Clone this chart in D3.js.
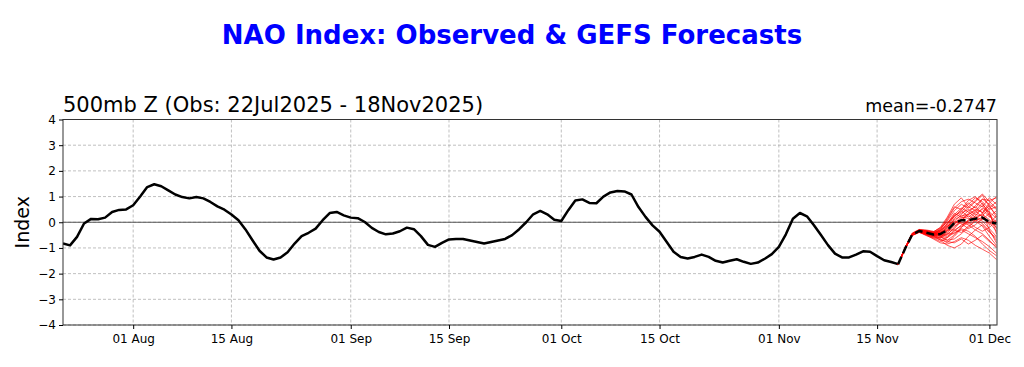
<!DOCTYPE html>
<html>
<head>
<meta charset="utf-8">
<script src="https://cdn.jsdelivr.net/npm/d3@7"></script>
<style>
  html, body { margin: 0; padding: 0; background: #fff; }
  svg { display: block; font-family: "DejaVu Sans", sans-serif; }
</style>
</head>
<body>
<svg id="chart" width="1024" height="367"></svg>
<script>
// ---- data ----
const obsStart = "2025-07-22";
const observed = [
  -0.83,-0.90,-0.57,-0.05,0.13,0.12,0.18,0.40,0.48,0.50,
  0.66,1.00,1.37,1.48,1.40,1.24,1.08,0.98,0.93,0.98,0.93,0.79,0.62,0.49,0.30,0.08,-0.28,-0.70,-1.11,-1.37,-1.45,-1.37,-1.17,-0.83,-0.54,-0.41,-0.25,0.08,0.36,0.40,0.27,
  0.18,0.16,0.01,-0.22,-0.38,-0.47,-0.44,-0.35,-0.21,-0.27,-0.54,-0.88,-0.96,-0.80,-0.67,-0.65,-0.65,-0.71,-0.77,-0.83,-0.77,-0.71,-0.65,-0.50,-0.27,0.00,0.31,0.44,0.31,0.10,
  0.05,0.47,0.85,0.89,0.75,0.74,1.00,1.16,1.22,1.20,1.08,0.59,0.21,-0.12,-0.37,-0.76,-1.15,-1.35,-1.41,-1.35,-1.26,-1.35,-1.50,-1.57,-1.50,-1.44,-1.54,-1.62,-1.57,-1.42,-1.24,
  -0.96,-0.47,0.14,0.36,0.23,-0.12,-0.50,-0.89,-1.22,-1.37,-1.37,-1.26,-1.13,-1.15,-1.32,-1.48,-1.55,-1.63
];
const fcstStart = "2025-11-18";
const ensMean = [-1.63,-1.02,-0.48,-0.34,-0.41,-0.48,-0.46,-0.31,-0.03,0.08,0.08,0.14,0.18,0.01,-0.05];
const members = [
  [-1.63,-1.00,-0.45,-0.30,-0.35,-0.40,-0.30,0.05,0.45,0.70,0.55,0.80,1.05,0.60,0.30],
  [-1.63,-1.05,-0.50,-0.38,-0.50,-0.65,-0.80,-0.85,-0.75,-0.60,-0.70,-0.90,-1.05,-1.20,-1.45],
  [-1.63,-1.02,-0.48,-0.32,-0.40,-0.42,-0.35,-0.10,0.30,0.55,0.40,0.20,0.30,0.10,-0.20],
  [-1.63,-0.98,-0.42,-0.28,-0.30,-0.35,-0.55,-0.70,-0.50,-0.20,0.10,0.35,0.50,0.20,0.45],
  [-1.63,-1.04,-0.52,-0.40,-0.48,-0.55,-0.45,-0.20,0.10,0.25,0.30,0.50,0.40,-0.30,-0.80],
  [-1.63,-1.01,-0.46,-0.33,-0.38,-0.50,-0.62,-0.45,-0.25,0.05,0.35,0.65,0.90,0.85,0.95],
  [-1.63,-1.03,-0.50,-0.36,-0.45,-0.52,-0.70,-0.90,-1.00,-0.85,-0.55,-0.30,-0.10,-0.40,-0.60],
  [-1.63,-0.99,-0.44,-0.30,-0.32,-0.38,-0.20,0.20,0.70,0.95,0.60,0.45,0.75,0.30,0.00],
  [-1.63,-1.02,-0.49,-0.35,-0.44,-0.47,-0.50,-0.40,-0.15,0.00,-0.10,-0.30,-0.45,-0.70,-1.00],
  [-1.63,-1.00,-0.47,-0.33,-0.36,-0.45,-0.40,-0.25,0.15,0.35,0.50,0.30,0.25,0.55,0.80],
  [-1.63,-1.04,-0.50,-0.37,-0.47,-0.58,-0.60,-0.35,-0.05,0.20,0.15,0.05,0.20,-0.10,0.10],
  [-1.63,-1.01,-0.47,-0.32,-0.40,-0.44,-0.38,-0.30,-0.30,-0.15,0.05,0.20,0.10,0.35,-0.25],
  [-1.63,-1.03,-0.49,-0.36,-0.43,-0.50,-0.55,-0.60,-0.40,-0.30,-0.45,-0.60,-0.75,-0.95,-1.20],
  [-1.63,-0.99,-0.45,-0.31,-0.34,-0.41,-0.32,-0.05,0.25,0.40,0.70,0.95,0.80,0.50,0.60],
  [-1.63,-1.02,-0.48,-0.34,-0.42,-0.49,-0.48,-0.50,-0.20,0.10,0.25,0.10,0.35,0.65,0.20],
  [-1.63,-1.00,-0.46,-0.33,-0.39,-0.46,-0.42,-0.15,0.05,-0.05,-0.25,-0.10,0.15,0.00,-0.35],
  [-1.63,-1.03,-0.49,-0.35,-0.46,-0.54,-0.58,-0.70,-0.65,-0.45,-0.20,0.05,-0.15,-0.55,-0.90],
  [-1.63,-1.01,-0.47,-0.34,-0.41,-0.43,-0.28,0.10,0.55,0.80,0.90,0.75,0.60,0.95,0.70],
  [-1.63,-1.02,-0.48,-0.35,-0.41,-0.47,-0.44,-0.30,-0.10,0.15,0.30,0.45,0.20,-0.05,0.25],
  [-1.63,-1.00,-0.47,-0.32,-0.37,-0.43,-0.50,-0.55,-0.35,-0.10,0.05,0.25,0.55,0.40,-0.45],
  [-1.63,-1.01,-0.44,-0.29,-0.33,-0.39,-0.25,0.15,0.60,0.50,0.85,1.00,0.70,0.40,0.15],
  [-1.63,-1.03,-0.51,-0.39,-0.52,-0.62,-0.75,-0.60,-0.30,-0.40,-0.15,0.10,-0.05,-0.35,-0.70],
  [-1.63,-1.00,-0.46,-0.31,-0.36,-0.44,-0.36,-0.05,0.35,0.20,0.45,0.60,0.35,0.75,1.00],
  [-1.63,-1.02,-0.49,-0.36,-0.45,-0.56,-0.65,-0.80,-0.55,-0.25,-0.35,-0.55,-0.85,-1.10,-1.30],
  [-1.63,-0.99,-0.45,-0.30,-0.33,-0.37,-0.22,0.00,0.20,0.50,0.75,0.55,0.90,0.70,0.50],
  [-1.63,-1.02,-0.48,-0.33,-0.42,-0.51,-0.52,-0.45,-0.45,-0.20,0.00,-0.20,-0.35,-0.20,0.05],
  [-1.63,-1.01,-0.47,-0.34,-0.38,-0.46,-0.40,-0.20,0.25,0.45,0.20,0.40,0.65,0.25,-0.10],
  [-1.63,-1.04,-0.51,-0.38,-0.49,-0.60,-0.68,-0.75,-0.80,-0.65,-0.85,-0.70,-0.50,-0.75,-0.95],
  [-1.63,-1.00,-0.46,-0.31,-0.37,-0.42,-0.33,-0.15,0.00,0.30,0.60,0.85,1.10,0.80,0.55],
  [-1.63,-1.02,-0.48,-0.35,-0.43,-0.48,-0.46,-0.35,-0.05,0.10,-0.05,0.15,0.05,-0.25,-0.55]
];
const yTicks = [-4,-3,-2,-1,0,1,2,3,4];
const xTickDates = ["2025-08-01","2025-08-15","2025-09-01","2025-09-15","2025-10-01","2025-10-15","2025-11-01","2025-11-15","2025-12-01"];
const titleText = "NAO Index: Observed & GEFS Forecasts";
const subtitleText = "500mb Z (Obs: 22Jul2025 - 18Nov2025)";
const meanText = "mean=-0.2747";
const yLabel = "Index";

// ---- helpers ----
const parse = d3.utcParse("%Y-%m-%d");
const addDays = (d, n) => d3.utcDay.offset(d, n);
const obsData = observed.map((v, i) => ({ date: addDays(parse(obsStart), i), v }));
const fStart = parse(fcstStart);
const memberData = members.map(m => m.map((v, i) => ({ date: addDays(fStart, i), v })));
const meanData = ensMean.map((v, i) => ({ date: addDays(fStart, i), v }));

// ---- layout ----
const L = 63, R = 997, T = 119.5, B = 325;
const svg = d3.select("#chart");

const x = d3.scaleUtc()
  .domain([parse(obsStart), d3.utcHour.offset(parse("2025-12-02"), 2)])
  .range([L, R]);
const y = d3.scaleLinear().domain([-4, 4]).range([B, T]);

svg.append("defs").append("clipPath").attr("id", "clip")
  .append("rect").attr("x", L).attr("y", T).attr("width", R - L).attr("height", B - T);

// grid
const grid = svg.append("g");
grid.selectAll("line.gy").data(yTicks).join("line")
  .attr("x1", L).attr("x2", R)
  .attr("y1", d => y(d)).attr("y2", d => y(d))
  .attr("stroke", "#b0b0b0").attr("stroke-width", 0.8).attr("stroke-dasharray", "3,2");
grid.selectAll("line.gx").data(xTickDates.map(parse)).join("line")
  .attr("x1", d => x(d)).attr("x2", d => x(d))
  .attr("y1", T).attr("y2", B)
  .attr("stroke", "#b0b0b0").attr("stroke-width", 0.8).attr("stroke-dasharray", "3,2");

// zero line
svg.append("line").attr("x1", L).attr("x2", R).attr("y1", y(0)).attr("y2", y(0))
  .attr("stroke", "#555").attr("stroke-width", 1);

const line = d3.line().x(d => x(d.date)).y(d => y(d.v));
const plot = svg.append("g").attr("clip-path", "url(#clip)");

// observed
plot.append("path").datum(obsData).attr("d", line)
  .attr("fill", "none").attr("stroke", "#000").attr("stroke-width", 2.5)
  .attr("stroke-linejoin", "round");

// members
plot.selectAll("path.mem").data(memberData).join("path")
  .attr("class", "mem").attr("d", line)
  .attr("fill", "none").attr("stroke", "#ff0000").attr("stroke-opacity", 0.65)
  .attr("stroke-width", 1);

// mean
plot.append("path").datum(meanData).attr("d", line)
  .attr("fill", "none").attr("stroke", "#000").attr("stroke-width", 2.5)
  .attr("stroke-dasharray", "8,4");

// frame
svg.append("rect").attr("x", L).attr("y", T).attr("width", R - L).attr("height", B - T)
  .attr("fill", "none").attr("stroke", "#333").attr("stroke-width", 1);

// axes
const fmtY = d => (d < 0 ? "\u2212" + Math.abs(d) : String(d));
const yAxis = svg.append("g").attr("transform", `translate(${L},0)`)
  .call(d3.axisLeft(y).tickValues(yTicks).tickFormat(fmtY).tickSize(4).tickPadding(3));
const xAxis = svg.append("g").attr("transform", `translate(0,${B})`)
  .call(d3.axisBottom(x).tickValues(xTickDates.map(parse)).tickFormat(d3.utcFormat("%d %b")).tickSize(4).tickPadding(5));
[yAxis, xAxis].forEach(g => {
  g.select(".domain").remove();
  g.selectAll("text").attr("font-family", "DejaVu Sans").attr("font-size", 12).attr("fill", "#000");
  g.selectAll("line").attr("stroke", "#000");
});

// texts
svg.append("text").attr("x", 512).attr("y", 44).attr("text-anchor", "middle")
  .attr("font-size", 26).attr("font-weight", "bold").attr("fill", "#0000ff").text(titleText);
svg.append("text").attr("x", L).attr("y", 112).attr("text-anchor", "start")
  .attr("font-size", 21).attr("fill", "#000").text(subtitleText);
svg.append("text").attr("x", R).attr("y", 112).attr("text-anchor", "end")
  .attr("font-size", 17.5).attr("fill", "#000").text(meanText);
svg.append("text").attr("transform", `translate(29,${(T + B) / 2}) rotate(-90)`)
  .attr("text-anchor", "middle").attr("font-size", 19).attr("fill", "#000").text(yLabel);
</script>
</body>
</html>
